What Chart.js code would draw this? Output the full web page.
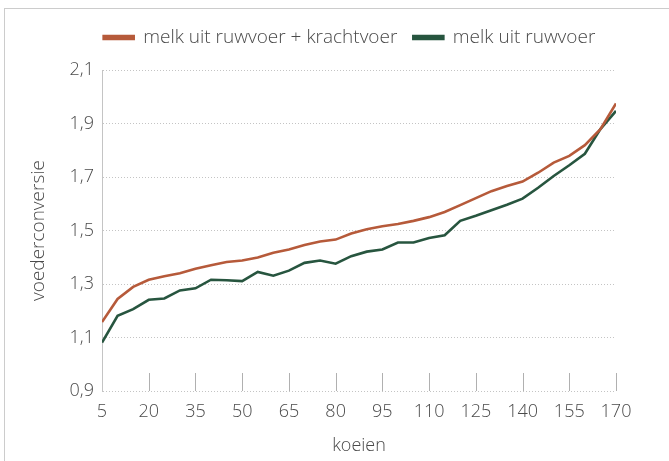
<!DOCTYPE html>
<html>
<head>
<meta charset="utf-8">
<script src="https://cdn.jsdelivr.net/npm/chart.js@4"></script>
<style>
  body { margin: 0; background: #fff; }
  #wrap { position: relative; width: 669px; height: 461px; overflow: hidden; }
  #frame { position: absolute; left: 4px; top: 8px; width: 700px; height: 500px;
           border-top: 1px solid #cccccc; border-left: 1px solid #cccccc; }
  canvas { position: absolute; left: 0; top: 0; }
</style>
</head>
<body>
<div id="wrap">
  <div id="frame"></div>
  <canvas id="chart" width="669" height="461"></canvas>
</div>
<script>
// koeien (x) and voederconversie per reeks
const koeien = [5, 10, 15, 20, 25, 30, 35, 40, 45, 50, 55, 60, 65, 70, 75, 80, 85,
                90, 95, 100, 105, 110, 115, 120, 125, 130, 135, 140, 145, 150, 155, 160, 165, 170];
const ruwvoerKrachtvoer = [1.158, 1.244, 1.289, 1.316, 1.329, 1.34, 1.357, 1.37, 1.382, 1.388, 1.399, 1.417,
                           1.429, 1.446, 1.459, 1.466, 1.489, 1.505, 1.516, 1.524, 1.536, 1.55, 1.569, 1.595,
                           1.621, 1.647, 1.666, 1.683, 1.716, 1.754, 1.779, 1.819, 1.879, 1.975];
const ruwvoer = [1.081, 1.181, 1.206, 1.241, 1.246, 1.276, 1.284, 1.316, 1.314, 1.311, 1.345, 1.331,
                 1.35, 1.379, 1.388, 1.376, 1.404, 1.421, 1.429, 1.455, 1.455, 1.472, 1.482, 1.536,
                 1.555, 1.576, 1.596, 1.619, 1.66, 1.704, 1.744, 1.787, 1.879, 1.947];
const xTicks = [5, 20, 35, 50, 65, 80, 95, 110, 125, 140, 155, 170];
const yTicks = [0.9, 1.1, 1.3, 1.5, 1.7, 1.9, 2.1];

const fontFamily = '"Open Sans", Lato, sans-serif';
const textColor = '#4a4a4a';

// small tick marks pointing up from the bottom axis
const innerTicks = {
    id: 'innerTicks',
    afterDraw(chart) {
        const ctx = chart.ctx;
        const x = chart.scales.x;
        const bottom = chart.chartArea.bottom;
        ctx.save();
        ctx.strokeStyle = '#b0b0b0';
        ctx.lineWidth = 1;
        xTicks.slice(1).forEach(v => {
            const px = Math.round(x.getPixelForValue(v)) + 0.5;
            ctx.beginPath();
            ctx.moveTo(px, bottom);
            ctx.lineTo(px, bottom - 18);
            ctx.stroke();
        });
        ctx.restore();
    }
};

// extra room between legend and plot
const legendMargin = {
    id: 'legendMargin',
    beforeInit(chart) {
        const fit = chart.legend.fit;
        chart.legend.fit = function () {
            fit.bind(chart.legend)();
            this.height += 13;
        };
    }
};

new Chart(document.getElementById('chart').getContext('2d'), {
    type: 'line',
    data: {
        datasets: [{
            label: 'melk uit ruwvoer + krachtvoer',
            data: koeien.map((k, i) => ({ x: k, y: ruwvoerKrachtvoer[i] })),
            borderColor: '#b65a3a',
            backgroundColor: '#b65a3a',
            borderWidth: 2.6,
            pointRadius: 0,
            tension: 0
        }, {
            label: 'melk uit ruwvoer',
            data: koeien.map((k, i) => ({ x: k, y: ruwvoer[i] })),
            borderColor: '#27553f',
            backgroundColor: '#27553f',
            borderWidth: 2.6,
            pointRadius: 0,
            tension: 0
        }]
    },
    options: {
        responsive: false,
        animation: false,
        layout: { padding: { left: 30, right: 0, top: 12, bottom: 0 } },
        plugins: {
            legend: {
                position: 'top',
                labels: {
                    boxWidth: 30,
                    boxHeight: 3,
                    padding: 16,
                    color: textColor,
                    font: { family: fontFamily, size: 19, weight: '300' }
                }
            },
            tooltip: { enabled: false }
        },
        scales: {
            x: {
                type: 'linear',
                min: 5,
                max: 170,
                afterBuildTicks: scale => { scale.ticks = xTicks.map(v => ({ value: v })); },
                afterFit: scale => { scale.height = 70; },
                grid: { display: false },
                border: { display: false },
                ticks: { color: textColor, padding: 2, font: { family: fontFamily, size: 18, weight: '300' } },
                title: {
                    display: true,
                    text: 'koeien',
                    color: textColor,
                    padding: { top: 0, bottom: 4 },
                    font: { family: fontFamily, size: 18, weight: '300' }
                }
            },
            y: {
                min: 0.9,
                max: 2.1,
                afterBuildTicks: scale => { scale.ticks = yTicks.map(v => ({ value: v })); },
                afterFit: scale => { scale.width = 72; },
                grid: { color: '#c4c4c4', lineWidth: 1, drawTicks: false },
                border: { display: true, color: '#c4c4c4', dash: [1, 2] },
                ticks: {
                    color: textColor,
                    padding: 8,
                    font: { family: fontFamily, size: 18, weight: '300' },
                    callback: v => v.toFixed(1).replace('.', ',')
                },
                title: {
                    display: true,
                    text: 'voederconversie',
                    color: textColor,
                    padding: { top: -1, bottom: 0 },
                    font: { family: fontFamily, size: 19, weight: '300', lineHeight: 1 }
                }
            },
            // empty axis that only reserves the space right of the plot
            rechts: {
                type: 'linear',
                position: 'right',
                afterFit: scale => { scale.width = 53; },
                grid: { display: false },
                border: { display: false },
                ticks: { display: false }
            }
        }
    },
    plugins: [innerTicks, legendMargin]
});
</script>
</body>
</html>
